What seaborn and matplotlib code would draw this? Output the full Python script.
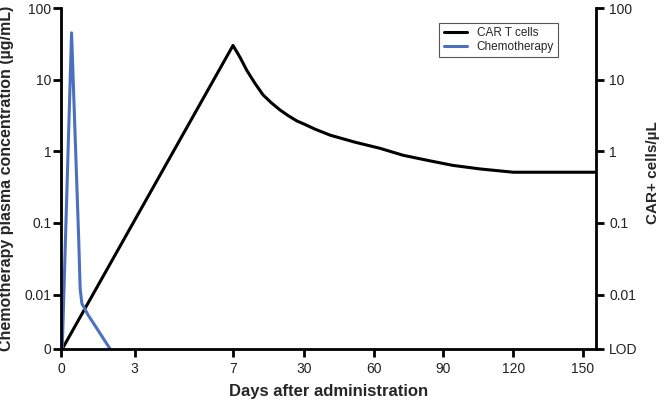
import numpy as np
import pandas as pd
import matplotlib
matplotlib.use("Agg")
import matplotlib.pyplot as plt
import seaborn as sns

# Данные
car_days = [0.05, 7, 9.3, 11.5, 14.1, 16.7, 19.3, 22.2, 24.8, 27.7, 30, 34.7, 41.2, 51.9, 62.7,
            72.6, 84.2, 94.1, 105.7, 120, 155.6]
car_vals = [0, 30, 20.4, 13.4, 8.9, 6.15, 4.8, 3.78, 3.16, 2.65, 2.4, 2.04, 1.68, 1.34, 1.1,
            0.88, 0.735, 0.635, 0.567, 0.51, 0.51]

chemo_days = [0.05, 0.43, 0.72, 0.78, 0.85, 1.1, 1.5, 2.0]
chemo_vals = [0, 45, 0.06, 0.012, 0.0075, 0.0052, 0.0032, 0]

x_ticks = [0, 3, 7, 30, 60, 90, 120, 150]
y_ticks = [0, 0.01, 0.1, 1, 10, 100]
y_left_labels = ["0", "0.01", "0.1", "1", "10", "100"]
y_right_labels = ["LOD", "0.01", "0.1", "1", "10", "100"]

# Нелинейная ось X: 0-7 дней растянуты, потом сжато
x_knots_day = [0, 7, 30, 155.6]
x_knots_pos = [0, 172, 243, 535]
y_floor = 10 ** -2.76  # "0" / LOD внизу оси


def fx(x):
    return np.interp(x, x_knots_day, x_knots_pos)


def fx_inv(v):
    return np.interp(v, x_knots_pos, x_knots_day)


def fy(y):
    return np.log10(np.clip(np.asarray(y, dtype=float), y_floor, None))


def fy_inv(v):
    return 10 ** np.asarray(v, dtype=float)


sns.set_style("ticks")
plt.rcParams["font.family"] = ["Liberation Sans", "DejaVu Sans"]

df_car = pd.DataFrame({"day": car_days, "val": car_vals})
df_chemo = pd.DataFrame({"day": chemo_days, "val": chemo_vals})

fig = plt.figure(figsize=(6.65, 4), dpi=100)
ax = fig.add_axes([61 / 665, 51 / 400, 535 / 665, 341 / 400])
ax.set_xscale("function", functions=(fx, fx_inv))
ax.set_yscale("function", functions=(fy, fy_inv))

sns.lineplot(data=df_car, x="day", y="val", ax=ax, color="black", linewidth=2.2,
             sort=False, estimator=None, label="CAR T cells")
sns.lineplot(data=df_chemo, x="day", y="val", ax=ax, color="#4a70bf", linewidth=2.2,
             sort=False, estimator=None, label="Chemotherapy")

ax.set_xlim(0, 155.6)
ax.set_ylim(0, 100)
ax.set_xticks(x_ticks)
ax.set_xticklabels([str(t) for t in x_ticks])
ax.set_yticks(y_ticks)
ax.set_yticklabels(y_left_labels)
ax.minorticks_off()

ax2 = ax.twinx()
ax2.set_yscale("function", functions=(fy, fy_inv))
ax2.set_ylim(0, 100)
ax2.set_yticks(y_ticks)
ax2.set_yticklabels(y_right_labels)
ax2.minorticks_off()

for a in (ax, ax2):
    a.spines["top"].set_visible(False)
    for s in ("left", "right", "bottom"):
        a.spines[s].set_linewidth(2)
        a.spines[s].set_color("black")
    a.tick_params(axis="both", direction="out", length=5.5, width=2, color="black",
                  labelsize=10, labelcolor="#222222")
ax.tick_params(axis="y", pad=1.5)
ax.tick_params(axis="x", pad=4)
ax2.tick_params(axis="y", pad=4)
ax.spines["right"].set_visible(False)
ax2.spines["left"].set_visible(False)
ax2.spines["bottom"].set_visible(False)

ax.set_xlabel("Days after administration", fontsize=12, fontweight="bold")
ax.set_ylabel("Chemotherapy plasma concentration (µg/mL)", fontsize=11.5, fontweight="bold")
ax2.set_ylabel("CAR+ cells/µL", fontsize=11, fontweight="bold")
ax.xaxis.set_label_coords(0.5, -0.103)
ax.yaxis.set_label_coords(-0.088, 0.5)
ax2.yaxis.set_label_coords(1.093, 0.516)

leg = ax.legend(loc="upper right", bbox_to_anchor=(0.929, 0.956), borderaxespad=0,
                fontsize=8.5, frameon=True, fancybox=False, framealpha=1, handlelength=2,
                borderpad=0.35, labelspacing=0.15)
leg.get_frame().set_edgecolor("#555555")
leg.get_frame().set_linewidth(0.8)

plt.savefig("out.png", dpi=100)
